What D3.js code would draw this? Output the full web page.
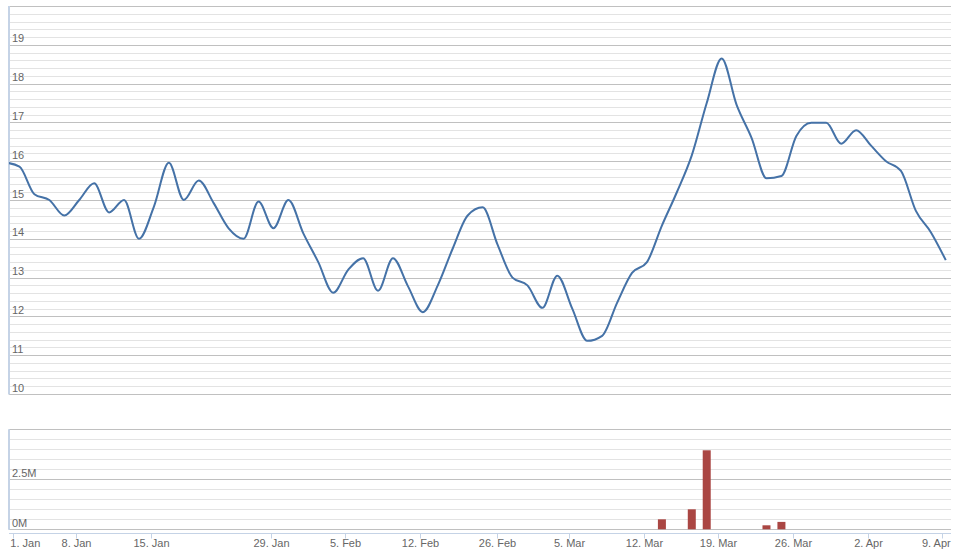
<!DOCTYPE html>
<html>
<head>
<meta charset="utf-8">
<script src="https://cdn.jsdelivr.net/npm/d3@7"></script>
<style>
  body { margin: 0; background: #fff; }
  svg { display: block; font-family: "Lucida Grande", "Lucida Sans Unicode", "Liberation Sans", Arial, sans-serif; }
</style>
</head>
<body>
<div id="chart"></div>
<script>
// trading days (ordinal axis, gaps skipped)
var dates = [
  "2017-12-29",
  "2018-01-02","2018-01-03","2018-01-04","2018-01-05",
  "2018-01-08","2018-01-09","2018-01-10","2018-01-11","2018-01-12",
  "2018-01-15","2018-01-16","2018-01-17","2018-01-18","2018-01-19",
  "2018-01-22","2018-01-23","2018-01-24",
  "2018-01-29","2018-01-30","2018-01-31","2018-02-01","2018-02-02",
  "2018-02-05","2018-02-06","2018-02-07","2018-02-08","2018-02-09",
  "2018-02-12","2018-02-13","2018-02-14","2018-02-15","2018-02-16",
  "2018-02-26","2018-02-27","2018-02-28","2018-03-01","2018-03-02",
  "2018-03-05","2018-03-06","2018-03-07","2018-03-08","2018-03-09",
  "2018-03-12","2018-03-13","2018-03-14","2018-03-15","2018-03-16",
  "2018-03-19","2018-03-20","2018-03-21","2018-03-22","2018-03-23",
  "2018-03-26","2018-03-27","2018-03-28","2018-03-29","2018-03-30",
  "2018-04-02","2018-04-03","2018-04-04","2018-04-05","2018-04-06",
  "2018-04-09"
];

var prices = [
  15.97,
  15.86, 15.15, 15.0, 14.6,
  15.0, 15.43, 14.68, 15.0, 14.0,
  14.83, 15.96, 15.0, 15.5, 14.92,
  14.27, 14.0, 14.96,
  14.27, 15.0, 14.14, 13.4, 12.61,
  13.2, 13.5, 12.66, 13.5, 12.78,
  12.11, 12.8, 13.75, 14.6, 14.81,
  13.85, 13.0, 12.8, 12.22, 13.05,
  12.2, 11.37, 11.5, 12.35, 13.12,
  13.4, 14.34, 15.2, 16.15, 17.5,
  18.65, 17.45, 16.6, 15.56, 15.62,
  16.65, 16.99, 16.99, 16.45, 16.8,
  16.4, 16.0, 15.75, 14.72, 14.17,
  13.45
];

var volumes = [
  0,
  0, 0, 0, 0,
  0, 0, 0, 0, 0,
  0, 0, 0, 0, 0,
  0, 0, 0,
  0, 0, 0, 0, 0,
  0, 0, 0, 0, 0,
  0, 0, 0, 0, 0,
  0, 0, 0, 0, 0,
  0, 0, 0, 0, 0,
  0, 500000, 0, 1000000, 3950000,
  0, 0, 0, 200000, 370000,
  0, 0, 0, 0, 0,
  0, 0, 0, 0, 0,
  0
];

var tickDates = ["2018-01-01","2018-01-08","2018-01-15","2018-01-29","2018-02-05","2018-02-12",
  "2018-02-26","2018-03-05","2018-03-12","2018-03-19","2018-03-26","2018-04-02","2018-04-09"];

var priceTicks = [10, 11, 12, 13, 14, 15, 16, 17, 18, 19];
var volumeTicks = [0, 2500000];

// layout
var width = 957, height = 553;
var plotL = 9, plotR = 951;
var top1 = 6, bot1 = 394;
var top2 = 429.3, bot2 = 529.3;
var axisY = 533.5;

var parse = d3.utcParse("%Y-%m-%d");
// points carry an afternoon timestamp, ticks sit on midnight
var times = dates.map(function(d) { return +parse(d) + 16 * 3600 * 1000; });
var fmt = d3.utcFormat("%-d. %b");

var svg = d3.select("#chart").append("svg")
  .attr("width", width)
  .attr("height", height);

// ordinal x: index space, ticks interpolated by time between neighbours
var x = d3.scaleLinear()
  .domain([0.3, dates.length - 1 + 0.35])
  .range([plotL, plotR]);

function ordinalIndex(t) {
  var i = d3.bisectRight(times, t) - 1;
  if (i < 0) i = 0;
  if (i >= times.length - 1) i = times.length - 2;
  return i + (t - times[i]) / (times[i + 1] - times[i]);
}

var y1 = d3.scaleLinear().domain([10, 20]).range([bot1, top1]);
var y2 = d3.scaleLinear().domain([0, 5000000]).range([bot2, top2]);

function grid(scale, minorStep, majorStep) {
  var d = scale.domain();
  var minor = d3.range(d[0], d[1] + minorStep / 2, minorStep);
  var major = d3.range(d[0], d[1] + majorStep / 2, majorStep);
  var g = svg.append("g");
  g.selectAll("line.minor").data(minor).enter().append("line")
    .attr("class", "minor")
    .attr("x1", plotL).attr("x2", plotR)
    .attr("y1", function(v) { return Math.round(scale(v)) + 0.5; })
    .attr("y2", function(v) { return Math.round(scale(v)) + 0.5; })
    .attr("stroke", "#e3e3e3");
  g.selectAll("line.major").data(major).enter().append("line")
    .attr("class", "major")
    .attr("x1", plotL).attr("x2", plotR)
    .attr("y1", function(v) { return Math.round(scale(v)) + 0.5; })
    .attr("y2", function(v) { return Math.round(scale(v)) + 0.5; })
    .attr("stroke", "#c0c0c0");
}

grid(y1, 0.2, 1);
grid(y2, 500000, 2500000);

// left axis lines
svg.append("line")
  .attr("x1", plotL).attr("x2", plotL)
  .attr("y1", top1).attr("y2", bot1 + 0.5)
  .attr("stroke", "#c5d3e6").attr("stroke-width", 2);
svg.append("line")
  .attr("x1", plotL).attr("x2", plotL)
  .attr("y1", top2).attr("y2", bot2 + 0.5)
  .attr("stroke", "#c5d3e6").attr("stroke-width", 2);

// y labels, inside the plot just above each line
svg.append("g").selectAll("text").data(priceTicks).enter().append("text")
  .attr("x", plotL + 3)
  .attr("y", function(v) { return y1(v) - 2.5; })
  .attr("fill", "#666")
  .attr("font-size", "11px")
  .text(function(v) { return v; });

svg.append("g").selectAll("text").data(volumeTicks).enter().append("text")
  .attr("x", plotL + 3)
  .attr("y", function(v) { return y2(v) - 2.5; })
  .attr("fill", "#666")
  .attr("font-size", "11px")
  .text(function(v) { return (v / 1e6) + "M"; });

// x axis
svg.append("line")
  .attr("x1", plotL).attr("x2", plotR)
  .attr("y1", axisY).attr("y2", axisY)
  .attr("stroke", "#c5d3e6");

var tg = svg.append("g").selectAll("g").data(tickDates).enter().append("g")
  .attr("transform", function(d) {
    return "translate(" + (Math.round(x(ordinalIndex(+parse(d)))) + 0.5) + ",0)";
  });
tg.append("line")
  .attr("y1", axisY).attr("y2", axisY + 5)
  .attr("stroke", "#c5d3e6");
tg.append("text")
  .attr("y", 547)
  .attr("text-anchor", "middle")
  .attr("fill", "#666")
  .attr("font-size", "11px")
  .text(function(d) { return fmt(parse(d)); });

// keep edge labels inside the plot width
tg.each(function(d) {
  var g = d3.select(this);
  var tx = x(ordinalIndex(+parse(d)));
  var box = g.select("text").node().getBBox();
  var left = tx + box.x, right = left + box.width;
  var shift = 0;
  if (left < plotL + 1) shift = plotL + 1 - left;
  if (right > plotR) shift = plotR - right;
  g.select("text").attr("x", shift);
});

// clip
svg.append("clipPath").attr("id", "clip1")
  .append("rect").attr("x", plotL).attr("y", top1 - 2).attr("width", plotR - plotL).attr("height", bot1 - top1 + 4);

var line = d3.line()
  .x(function(d, i) { return x(i); })
  .y(function(d) { return y1(d); })
  .curve(d3.curveMonotoneX);

svg.append("path")
  .datum(prices)
  .attr("clip-path", "url(#clip1)")
  .attr("d", line)
  .attr("fill", "none")
  .attr("stroke", "#4572a7")
  .attr("stroke-width", 2)
  .attr("stroke-linejoin", "round");

// volume bars
var barW = 8;
svg.append("g").selectAll("rect")
  .data(volumes.map(function(v, i) { return {i: i, v: v}; }).filter(function(d) { return d.v > 0; }))
  .enter().append("rect")
  .attr("x", function(d) { return x(d.i) - barW / 2; })
  .attr("y", function(d) { return y2(d.v); })
  .attr("width", barW)
  .attr("height", function(d) { return y2(0) - y2(d.v); })
  .attr("fill", "#aa4643");
</script>
</body>
</html>
